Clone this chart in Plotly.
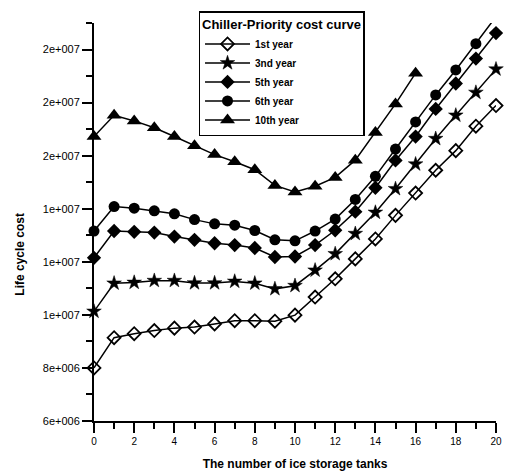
import plotly.graph_objects as go

tanks = list(range(21))

year1 = [8.00e6, 9.14e6, 9.29e6, 9.41e6, 9.50e6, 9.54e6, 9.66e6, 9.78e6, 9.78e6, 9.76e6, 9.99e6,
         10.67e6, 11.36e6, 12.11e6, 12.86e6, 13.75e6, 14.59e6, 15.45e6, 16.19e6, 17.11e6, 17.89e6]
year3 = [10.13e6, 11.19e6, 11.22e6, 11.29e6, 11.29e6, 11.20e6, 11.20e6, 11.26e6, 11.19e6, 10.98e6, 11.10e6,
         11.68e6, 12.30e6, 13.06e6, 13.86e6, 14.75e6, 15.68e6, 16.64e6, 17.52e6, 18.38e6, 19.26e6]
year5 = [12.15e6, 13.16e6, 13.13e6, 13.10e6, 12.95e6, 12.83e6, 12.70e6, 12.63e6, 12.52e6, 12.18e6, 12.20e6,
         12.63e6, 13.19e6, 13.89e6, 14.79e6, 15.82e6, 16.72e6, 17.76e6, 18.72e6, 19.66e6, 20.62e6]
year6 = [13.16e6, 14.08e6, 14.02e6, 13.92e6, 13.81e6, 13.59e6, 13.43e6, 13.38e6, 13.18e6, 12.83e6, 12.79e6,
         13.16e6, 13.61e6, 14.35e6, 15.22e6, 16.25e6, 17.27e6, 18.29e6, 19.23e6, 20.22e6, 21.24e6]
tanks10 = list(range(17))
year10 = [16.72e6, 17.52e6, 17.31e6, 17.05e6, 16.72e6, 16.37e6, 16.04e6, 15.77e6, 15.47e6, 14.88e6, 14.63e6,
          14.85e6, 15.18e6, 15.83e6, 16.87e6, 17.95e6, 19.11e6]

series_names = ["1st year", "3nd year", "5th year", "6th year", "10th year"]

y_tickvals = [6e6, 8e6, 10e6, 12e6, 14e6, 16e6, 18e6, 20e6]
y_ticktext = ["6e+006", "8e+006", "1e+007", "1e+007", "1e+007", "2e+007", "2e+007", "2e+007"]
y_minor = [7e6, 9e6, 11e6, 13e6, 15e6, 17e6, 19e6, 21e6]

FONT = "Liberation Sans, Arial, sans-serif"

fig = go.Figure()
styles = [
    (tanks, year1, dict(symbol="diamond-open", size=10, color="black", line=dict(width=1.8, color="black"))),
    (tanks, year3, dict(symbol="star", size=11, color="black", line=dict(width=0.5, color="black"))),
    (tanks, year5, dict(symbol="diamond", size=11, color="black")),
    (tanks, year6, dict(symbol="circle", size=11, color="black")),
    (tanks10, year10, dict(symbol="triangle-up", size=13, color="black")),
]
for name, (xs, ys, mk) in zip(series_names, styles):
    fig.add_trace(go.Scatter(
        x=xs, y=ys, name=name, mode="lines+markers",
        line=dict(color="black", width=1.5), marker=mk, cliponaxis=False,
    ))

fig.update_layout(
    width=507, height=473,
    margin=dict(l=94, r=11, t=17, b=52),
    plot_bgcolor="white", paper_bgcolor="white",
    font=dict(family=FONT, color="black", size=10),
    showlegend=True,
    legend=dict(
        x=0.26, y=1.03, xanchor="left", yanchor="top",
        bordercolor="black", borderwidth=1.5, bgcolor="white",
        font=dict(family=FONT, size=10, color="black", weight="bold"),
        title=dict(text="<b>Chiller-Priority cost curve</b>", side="top center",
                   font=dict(family=FONT, size=13, color="black")),
        tracegroupgap=0, itemwidth=45,
    ),
    xaxis=dict(
        range=[0, 20], showgrid=False, zeroline=False, automargin=False,
        showline=True, linecolor="black", linewidth=2,
        ticks="outside", ticklen=10, tickwidth=2, tickcolor="black",
        tickvals=list(range(0, 21, 2)),
        tickfont=dict(family=FONT, size=10),
        minor=dict(tickvals=list(range(1, 20, 2)), ticks="outside", ticklen=6, tickwidth=2, tickcolor="black"),
        title=dict(text="<b>The number of ice storage tanks</b>", font=dict(family=FONT, size=12), standoff=14),
    ),
    yaxis=dict(
        range=[6e6, 21e6], showgrid=False, zeroline=False, automargin=False,
        showline=True, linecolor="black", linewidth=2,
        ticks="outside", ticklen=10, tickwidth=2, tickcolor="black",
        tickvals=y_tickvals, ticktext=y_ticktext,
        tickfont=dict(family=FONT, size=11),
        minor=dict(tickvals=y_minor, ticks="outside", ticklen=6, tickwidth=2, tickcolor="black"),
    ),
    annotations=[dict(
        text="<b>Life cycle cost</b>", textangle=-90, xref="paper", yref="paper",
        x=-0.184, y=0.418, xanchor="center", yanchor="middle", showarrow=False,
        font=dict(family=FONT, size=12, color="black"),
    )],
)

fig.write_html("out.html")
